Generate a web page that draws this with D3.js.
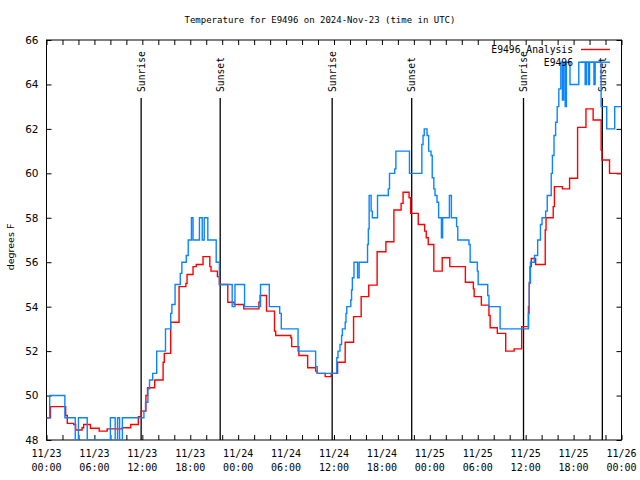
<!DOCTYPE html>
<html>
<head>
<meta charset="utf-8">
<script src="https://cdn.jsdelivr.net/npm/d3@7"></script>
<style>
  html, body { margin: 0; padding: 0; background: #fff; }
  svg { display: block; }
</style>
</head>
<body>
<svg id="chart" width="640" height="480"></svg>
<script>
// ---------------- data (hours since 2024-11-23 00:00 UTC) ----------------
const startDate = "2024-11-23T00:00:00Z";
const endHour = 72;
const titleText = "Temperature for E9496 on 2024-Nov-23 (time in UTC)";
const yLabel = "degrees F";
const seriesNames = ["E9496 Analysis", "E9496"];
const yTicks = [48, 50, 52, 54, 56, 58, 60, 62, 64, 66];

// Observed station (E9496) — step change times and values
const obsHours = [0, 0.4, 2.3, 3.6, 4.0, 5.1, 8.0, 8.6, 8.9, 9.15, 9.5, 12.2, 12.4, 12.7, 12.9, 13.3, 13.8, 14.9,
  15.55, 15.7, 16.1, 16.75, 16.95, 17.5, 17.75, 18.15, 18.35, 19.15, 19.5, 19.75, 20.2, 21.25, 21.65,
  23.25, 23.6, 24.8, 26.8, 27.9, 29.2, 29.4, 31.5, 33.7, 33.9,
  36.35, 36.5, 36.75, 36.95, 37.05, 37.4, 37.5, 37.6, 38.1, 38.2, 38.3, 38.5, 38.95, 39.15, 40.2, 40.3, 40.4,
  40.65, 40.8, 41.45, 42.8, 42.95, 43.6, 43.75, 45.45, 47.0, 47.15, 47.3, 47.65, 47.85, 48.15, 48.3, 48.5,
  48.65, 48.9, 49.1, 49.45, 49.6, 50.45, 50.7, 51.35, 51.5, 52.9, 53.05, 53.95, 54.05, 55.25, 55.4, 56.8,
  60.35, 60.45, 60.6, 61.1, 61.5, 61.85, 62.05, 62.5, 62.7, 63.2, 63.35, 63.55, 63.75, 63.95, 64.15,
  64.4, 64.6, 64.75, 64.95, 65.1, 65.55, 66.65, 67.45, 67.6, 67.85, 68.0, 68.55, 68.7, 69.45, 70.15, 71.15];
const obsValues = [49, 50, 49, 48, 49, 48, 49, 48, 49, 48, 49, 49.3, 49.7, 50.3, 50.7, 51, 52, 53,
  53.7, 54.1, 55, 55.5, 56, 56.3, 57, 58, 57, 58, 57, 58, 57, 56, 55,
  54, 55, 54, 55, 54, 53.7, 53, 52, 51.3, 51,
  51.7, 52, 52.3, 52.7, 53, 53.3, 53.7, 54, 54.3, 54.75, 55.3, 56, 55.3, 56, 56.8, 57.5, 59,
  58.3, 58, 59, 59.3, 60, 60.2, 61, 60, 61.3, 61.7, 62, 61.7, 61, 60.8, 59.8, 59.3,
  59, 58.7, 58, 57.1, 58, 59, 58, 57.6, 57, 56.8, 56, 55.6, 55, 54.5, 54, 53,
  53.7, 55.1, 56, 56.3, 57, 57.7, 58, 58.3, 59, 60, 60.8, 61.7, 62.3, 63, 63.8,
  65, 63.3, 65, 63, 65, 64, 65, 64, 65, 64, 65, 64, 65, 63, 62, 63];

// Analysis — step change times and values
const anaHours = [0, 0.5, 2.4, 2.6, 3.4, 3.65, 4.45, 4.65, 5.5, 6.6, 7.6, 9.5, 10.55, 11.5, 11.85, 12.45, 12.65,
  13.55, 14.6, 14.75, 15.55, 16.6, 17.45, 17.6, 18.35, 18.75, 19.6, 20.45, 20.6, 21.4, 21.65, 22.7, 23.5,
  24.7, 26.6, 26.75, 27.55, 28.55, 28.7, 30.6, 30.7, 31.6, 32.7, 33.7, 33.9, 34.9, 35.65,
  36.45, 37.4, 38.45, 39.4, 40.35, 41.4, 42.5, 43.5, 44.4, 44.65, 45.4, 45.6, 46.55, 47.35, 47.55, 47.8,
  48.5, 49.55, 50.5, 52.45, 53.45, 53.55, 54.45, 55.4, 55.55, 56.45, 57.5, 58.55, 59.5, 60.35, 60.45,
  60.55, 60.7, 61.25, 62.45, 62.55, 63.45, 63.6, 64.6, 65.5, 66.5, 67.55, 68.45, 69.45, 69.55, 70.5];
const anaValues = [49, 49.5, 49.1, 48.75, 48.7, 48.45, 48.55, 48.7, 48.53, 48.4, 48.5, 48.55, 48.7, 49.05, 49.3, 50, 50.35,
  50.7, 51.5, 51.9, 53.3, 54.9, 55.05, 55.45, 55.8, 55.9, 56.25, 55.8, 55.6, 55.35, 55.0, 54.2, 54.1,
  53.9, 54.2, 54.5, 53.8, 52.9, 52.7, 52.6, 52.2, 51.8, 51.25, 51.1, 51.0, 50.85, 51.0,
  51.5, 52.4, 53.55, 54.45, 54.97, 56.47, 56.92, 58.35, 58.65, 59.15, 58.9, 58.2, 57.7, 57.4, 57.1, 56.8,
  55.6, 56.2, 55.8, 55.1, 54.8, 54.45, 54.07, 53.6, 53.05, 52.8, 52.0, 52.1, 53.1, 54.0, 55.05,
  55.8, 56.17, 55.9, 57.45, 58.0, 58.5, 59.4, 59.3, 59.78, 62.07, 62.9, 62.4, 61.05, 60.6, 60.0];

const sunriseHours = [11.85, 35.77, 59.73];
const sunsetHours = [21.75, 45.73, 69.6];

// ---------------- drawing ----------------
const W = 640, H = 480;
const plot = { left: 46.5, right: 621.5, top: 40, bottom: 440 };
const t0 = new Date(startDate);
const toDate = h => new Date(t0.getTime() + h * 3600 * 1000);

const svg = d3.select("#chart");
const mono = "'DejaVu Sans Mono', 'Liberation Mono', monospace";
const sans = "'DejaVu Sans', 'Liberation Sans', sans-serif";

const x = d3.scaleUtc().domain([t0, toDate(endHour)]).range([plot.left, plot.right]);
const y = d3.scaleLinear().domain([48, 66]).range([plot.bottom, plot.top]);

svg.append("rect").attr("width", W).attr("height", H).attr("fill", "#fff");

// title
svg.append("text").attr("x", 320).attr("y", 23).attr("text-anchor", "middle")
  .attr("font-family", mono).attr("font-size", 9).attr("fill", "#000").text(titleText);

// y label
svg.append("text").attr("transform", "translate(14,247) rotate(-90)").attr("text-anchor", "middle")
  .attr("font-family", sans).attr("font-size", 9.5).attr("fill", "#000").text(yLabel);

// clip
svg.append("clipPath").attr("id", "clip").append("rect")
  .attr("x", plot.left).attr("y", plot.top).attr("width", plot.right - plot.left).attr("height", plot.bottom - plot.top);

// axes ticks
const twoHourTicks = d3.utcHour.every(2).range(t0, toDate(endHour + 0.01));
const bottomAxis = d3.axisBottom(x).tickValues(twoHourTicks).tickSize(-5).tickFormat("");
const topAxis = d3.axisTop(x).tickValues(twoHourTicks).tickSize(-5).tickFormat("");
const leftAxis = d3.axisLeft(y).tickValues(yTicks).tickSize(-5).tickPadding(8).tickFormat(d3.format("d"));
const rightAxis = d3.axisRight(y).tickValues(yTicks).tickSize(-5).tickFormat("");

function styleAxis(g) {
  g.select(".domain").remove();
  g.selectAll(".tick line").attr("stroke", "#000").attr("stroke-width", 1);
}
svg.append("g").attr("transform", `translate(0,${plot.bottom})`).call(bottomAxis).call(styleAxis);
svg.append("g").attr("transform", `translate(0,${plot.top})`).call(topAxis).call(styleAxis);
const gl = svg.append("g").attr("transform", `translate(${plot.left},0)`).call(leftAxis).call(styleAxis);
gl.selectAll(".tick text").attr("font-family", sans).attr("font-size", 10.5).attr("fill", "#000");
svg.append("g").attr("transform", `translate(${plot.right},0)`).call(rightAxis).call(styleAxis);

// x labels every 6 hours
const sixHourTicks = d3.utcHour.every(6).range(t0, toDate(endHour + 0.01));
const fmtDay = d3.utcFormat("%m/%d"), fmtTime = d3.utcFormat("%H:%M");
const xl = svg.append("g");
sixHourTicks.forEach(d => {
  const t = xl.append("text").attr("x", x(d)).attr("y", 457).attr("text-anchor", "middle")
    .attr("font-family", mono).attr("font-size", 10).attr("fill", "#000");
  t.append("tspan").attr("x", x(d)).attr("y", 457).text(fmtDay(d));
  t.append("tspan").attr("x", x(d)).attr("y", 471).text(fmtTime(d));
});

// frame
svg.append("rect").attr("x", plot.left).attr("y", plot.top)
  .attr("width", plot.right - plot.left).attr("height", plot.bottom - plot.top)
  .attr("fill", "none").attr("stroke", "#000").attr("stroke-width", 1);

// sunrise/sunset lines
const sunEvents = sunriseHours.map(h => ({ h, label: "Sunrise" }))
  .concat(sunsetHours.map(h => ({ h, label: "Sunset" })));
const sg = svg.append("g");
sunEvents.forEach(ev => {
  const xp = x(toDate(ev.h));
  sg.append("line").attr("x1", xp).attr("x2", xp).attr("y1", 98).attr("y2", plot.bottom)
    .attr("stroke", "#000").attr("stroke-width", 1.3);
  sg.append("text").attr("transform", `translate(${xp + 3.5},92) rotate(-90)`)
    .attr("font-family", mono).attr("font-size", 9.7).attr("fill", "#000").text(ev.label);
});

// series
function buildSeries(hours, values) {
  const pts = hours.map((h, i) => ({ t: toDate(h), v: values[i] }));
  pts.push({ t: toDate(endHour), v: values[values.length - 1] });
  return pts;
}
const line = d3.line().x(d => x(d.t)).y(d => y(d.v)).curve(d3.curveStepAfter);
const lg = svg.append("g").attr("clip-path", "url(#clip)");
lg.append("path").datum(buildSeries(anaHours, anaValues)).attr("d", line)
  .attr("fill", "none").attr("stroke", "#ff0000").attr("stroke-width", 1.4);
lg.append("path").datum(buildSeries(obsHours, obsValues)).attr("d", line)
  .attr("fill", "none").attr("stroke", "#0a84ff").attr("stroke-width", 1.4);

// legend
const legendColors = ["#ff0000", "#0a84ff"];
seriesNames.forEach((name, i) => {
  const yy = 49.5 + i * 12.7;
  svg.append("text").attr("x", 573).attr("y", yy + 3.5).attr("text-anchor", "end")
    .attr("font-family", mono).attr("font-size", 9.7).attr("fill", "#000").text(name);
  svg.append("line").attr("x1", 581).attr("x2", 610).attr("y1", yy).attr("y2", yy)
    .attr("stroke", legendColors[i]).attr("stroke-width", 1.4);
});
</script>
</body>
</html>
